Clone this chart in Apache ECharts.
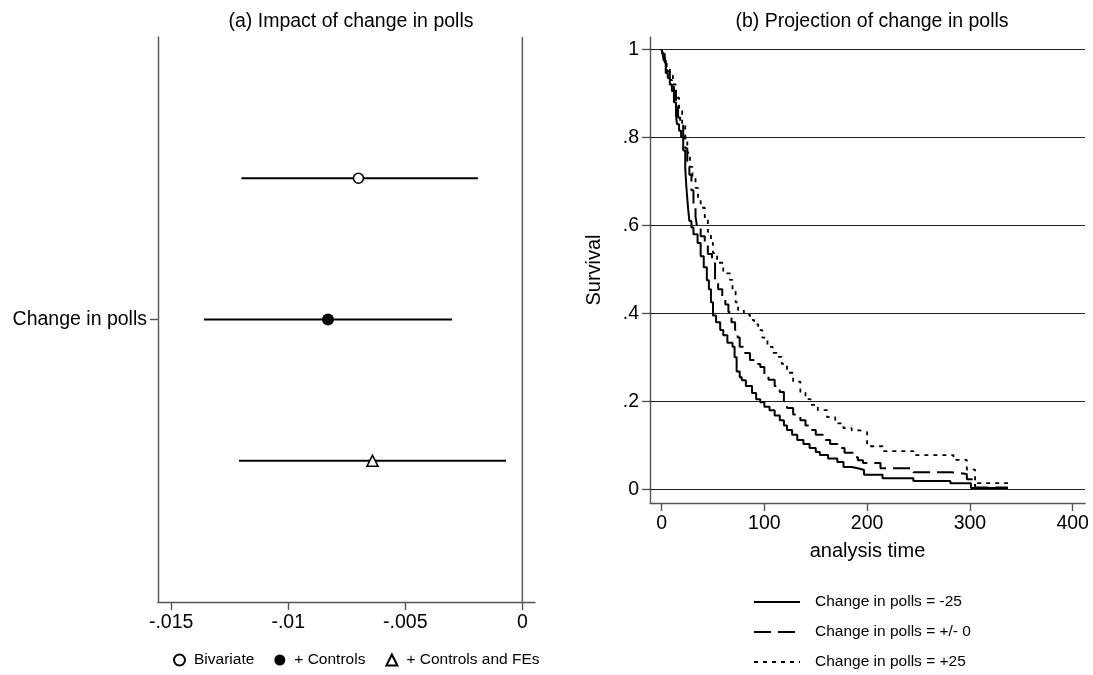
<!DOCTYPE html>
<html>
<head>
<meta charset="utf-8">
<script src="https://cdn.jsdelivr.net/npm/echarts@6/dist/echarts.min.js"></script>
<style>
html,body{margin:0;padding:0;background:#fff;}
#c{width:1093px;height:675px;}
</style>
</head>
<body>
<div id="c"></div>
<script>
// ---------- Panel (a): coefficient plot ----------
var models = ['Bivariate', '+ Controls', '+ Controls and FEs'];
var estimates = [-0.0070, -0.0083, -0.0064];
var ciLow = [-0.0120, -0.0136, -0.0121];
var ciHigh = [-0.0019, -0.0030, -0.0007];
var rowPos = [1, 0, -1];
var coefLabel = 'Change in polls';
var xTicksA = [-0.015, -0.01, -0.005, 0];
var xTickLabelsA = ['-.015', '-.01', '-.005', '0'];

// ---------- Panel (b): survival curves [analysis time, survival] ----------
var curveNames = ['Change in polls = -25', 'Change in polls = +/- 0', 'Change in polls = +25'];
var survMinus25 = [[0,1.0],[1,0.99],[2,0.975],[4,0.946],[6,0.935],[8,0.92],[10,0.905],[12,0.88],[14,0.85],[15,0.83],[17,0.815],[19,0.80],[21,0.77],[23,0.73],[24,0.69],[25.7,0.64],[27,0.61],[29,0.595],[31,0.58],[35,0.56],[38,0.53],[41,0.505],[44,0.475],[46,0.455],[48,0.425],[50,0.395],[53,0.38],[57,0.362],[60,0.35],[64,0.333],[69,0.324],[71,0.30],[73,0.268],[76,0.255],[78,0.248],[82,0.235],[88,0.219],[92,0.205],[96,0.198],[100,0.188],[105,0.18],[110,0.168],[115,0.157],[119,0.145],[122,0.135],[127,0.124],[132,0.112],[138,0.103],[144,0.094],[150,0.085],[154,0.078],[162,0.07],[171,0.062],[177,0.051],[185,0.047],[193,0.044],[197,0.033],[215,0.025],[245,0.019],[281,0.014],[301,0.003],[337,0.003]];
var survZero = [[0,1.0],[1,0.99],[3,0.97],[5,0.95],[8,0.93],[10,0.915],[12,0.905],[14,0.87],[16,0.845],[18,0.83],[21,0.80],[23,0.775],[25,0.745],[27,0.715],[29,0.68],[31,0.65],[33,0.62],[34.5,0.596],[38,0.575],[42,0.555],[45,0.535],[49,0.514],[52,0.476],[55,0.455],[59,0.437],[62,0.42],[65,0.403],[68,0.38],[71.5,0.362],[74,0.345],[76,0.324],[80,0.31],[86,0.294],[92,0.285],[96,0.278],[100,0.262],[104,0.249],[110,0.235],[115,0.221],[119,0.2],[122,0.185],[128,0.17],[135,0.157],[140,0.145],[145,0.135],[150,0.124],[157,0.112],[164,0.103],[171,0.094],[178,0.083],[186,0.073],[191,0.066],[196,0.06],[213,0.048],[245,0.039],[281,0.035],[297,0.023],[305,0.004],[337,0.004]];
var survPlus25 = [[0,1.0],[1,0.99],[3,0.975],[5,0.96],[8,0.94],[11,0.92],[14,0.89],[17,0.86],[20,0.83],[23,0.80],[25,0.765],[27.6,0.733],[30,0.71],[33,0.685],[35.4,0.658],[38,0.64],[42,0.612],[45,0.585],[48,0.56],[50,0.537],[54,0.515],[60,0.491],[66.6,0.476],[69,0.45],[72,0.425],[74.4,0.408],[80,0.397],[86,0.385],[90,0.375],[94,0.362],[98,0.345],[103,0.324],[108,0.31],[112,0.301],[117,0.285],[122,0.265],[128,0.245],[135,0.221],[140,0.205],[145,0.192],[152,0.18],[161,0.164],[169,0.15],[177,0.139],[185,0.134],[193,0.13],[200,0.098],[215,0.087],[245,0.078],[284,0.067],[297,0.045],[305,0.014],[337,0.014]];
var xTicksB = [0, 100, 200, 300, 400];
var yTicksB = [0, 0.2, 0.4, 0.6, 0.8, 1];
var yTickLabelsB = ['0', '.2', '.4', '.6', '.8', '1'];

var FONT = 'Liberation Sans, Arial, Helvetica, sans-serif';
var AX = '#555';
var chart = echarts.init(document.getElementById('c'), null, {renderer: 'canvas'});

function fmtFrom(ticks, labels) {
  return function (v) {
    for (var i = 0; i < ticks.length; i++) if (Math.abs(ticks[i] - v) < 1e-9) return labels[i];
    return '';
  };
}

var symbolDefs = [
  {symbol: 'circle', size: 10, color: '#fff', border: '#000', bw: 1.6},
  {symbol: 'circle', size: 12, color: '#000', border: '#000', bw: 0},
  {symbol: 'triangle', size: 11, color: '#fff', border: '#000', bw: 1.6}
];

var series = [];
// zero reference line
series.push({
  type: 'line', xAxisIndex: 0, yAxisIndex: 0, silent: true, symbol: 'none',
  data: [[0, -2], [0, 2]], lineStyle: {color: AX, width: 1.4}, z: 1
});
// confidence intervals
series.push({
  type: 'custom', xAxisIndex: 0, yAxisIndex: 0, silent: true, z: 2,
  data: rowPos.map(function (p, i) { return [ciLow[i], ciHigh[i], p]; }),
  renderItem: function (params, api) {
    var a = api.coord([api.value(0), api.value(2)]);
    var b = api.coord([api.value(1), api.value(2)]);
    return {type: 'line', shape: {x1: a[0], y1: a[1], x2: b[0], y2: b[1]}, style: {stroke: '#000', lineWidth: 1.8}};
  }
});
models.forEach(function (m, i) {
  var d = symbolDefs[i];
  series.push({
    type: 'scatter', name: m, xAxisIndex: 0, yAxisIndex: 0, z: 5,
    symbol: d.symbol, symbolSize: d.size,
    itemStyle: {color: d.color, borderColor: d.border, borderWidth: d.bw, opacity: 1},
    data: [[estimates[i], rowPos[i]]]
  });
});

var curveData = [survMinus25, survZero, survPlus25];
var curveStyles = [
  {type: 'solid', width: 2},
  {type: [17, 7], width: 2},
  {type: [4, 5], width: 1.8}
];
curveData.forEach(function (d, i) {
  series.push({
    type: 'line', name: curveNames[i], xAxisIndex: 1, yAxisIndex: 1, step: 'end',
    symbol: 'none', showSymbol: false, data: d, z: 5,
    lineStyle: {color: '#000', width: curveStyles[i].width, type: curveStyles[i].type},
    itemStyle: {color: '#000'},
    markLine: i === 0 ? {
      silent: true, symbol: 'none', label: {show: false},
      lineStyle: {color: '#222', width: 1, type: 'solid'},
      data: yTicksB.map(function (v) { return {yAxis: v}; }),
      z: 1
    } : undefined
  });
});

var option = {
  backgroundColor: '#fff',
  animation: false,
  textStyle: {fontFamily: FONT, color: '#000'},
  title: [
    {text: '(a) Impact of change in polls', left: 346, top: 7, textAlign: 'center',
     textStyle: {fontFamily: FONT, fontSize: 19.5, fontWeight: 'normal', color: '#000'}},
    {text: '(b) Projection of change in polls', left: 867, top: 7, textAlign: 'center',
     textStyle: {fontFamily: FONT, fontSize: 19.5, fontWeight: 'normal', color: '#000'}}
  ],
  grid: [
    {left: 158, right: 558, top: 37, bottom: 73},
    {left: 650, right: 8, top: 37, bottom: 172}
  ],
  xAxis: [
    {type: 'value', gridIndex: 0, min: -0.01556, max: 0.00054,
     axisLine: {show: true, onZero: false, lineStyle: {color: AX, width: 1.4}},
     axisTick: {show: true, length: 8, customValues: xTicksA, lineStyle: {color: AX, width: 1.4}},
     axisLabel: {customValues: xTicksA, formatter: fmtFrom(xTicksA, xTickLabelsA), fontSize: 19.5, color: '#000', margin: 11, fontFamily: FONT},
     splitLine: {show: false}},
    {type: 'value', gridIndex: 1, min: -11.3, max: 412,
     name: 'analysis time', nameLocation: 'middle', nameGap: 38,
     nameTextStyle: {fontSize: 20, color: '#000', fontFamily: FONT},
     axisLine: {show: true, onZero: false, lineStyle: {color: AX, width: 1.4}},
     axisTick: {show: true, length: 8, customValues: xTicksB, lineStyle: {color: AX, width: 1.4}},
     axisLabel: {customValues: xTicksB, fontSize: 19.5, color: '#000', margin: 11, fontFamily: FONT},
     splitLine: {show: false}}
  ],
  yAxis: [
    {type: 'value', gridIndex: 0, min: -2, max: 2,
     axisLine: {show: true, onZero: false, lineStyle: {color: AX, width: 1.4}},
     axisTick: {show: true, length: 8, customValues: [0], lineStyle: {color: AX, width: 1.4}},
     axisLabel: {customValues: [0], formatter: function () { return coefLabel; }, fontSize: 19.5, color: '#000', margin: 11, fontFamily: FONT},
     splitLine: {show: false}},
    {type: 'value', gridIndex: 1, min: -0.031, max: 1.028,
     name: 'Survival', nameLocation: 'middle', nameGap: 46, nameRotate: 90,
     nameTextStyle: {fontSize: 20, color: '#000', fontFamily: FONT},
     axisLine: {show: true, onZero: false, lineStyle: {color: AX, width: 1.4}},
     axisTick: {show: true, length: 8, customValues: yTicksB, lineStyle: {color: AX, width: 1.4}},
     axisLabel: {customValues: yTicksB, formatter: fmtFrom(yTicksB, yTickLabelsB), fontSize: 19.5, color: '#000', margin: 11, fontFamily: FONT},
     splitLine: {show: false}}
  ],
  legend: [
    {data: models, left: 168, top: 647, orient: 'horizontal', itemGap: 20,
     itemWidth: 11, itemHeight: 11,
     textStyle: {fontSize: 15.5, color: '#000', fontFamily: FONT, padding: [0, 0, 0, 4]},
     selectedMode: false},
    {data: curveNames, left: 753, top: 594, orient: 'vertical', itemGap: 14, padding: 0,
     itemWidth: 46, itemHeight: 15,
     itemStyle: {color: 'transparent', borderWidth: 0, opacity: 0},
     textStyle: {fontSize: 15.5, color: '#000', fontFamily: FONT, padding: [0, 0, 0, 10]},
     selectedMode: false}
  ],
  series: series
};
chart.setOption(option);
</script>
</body>
</html>
